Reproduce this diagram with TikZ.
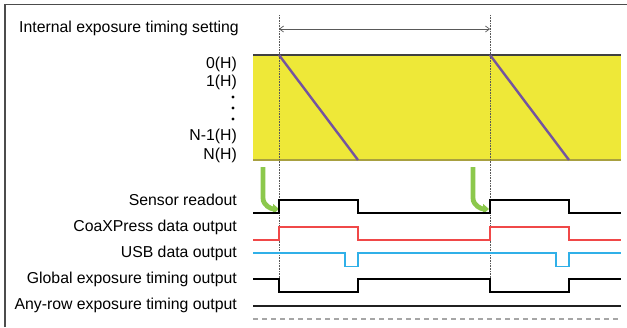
\documentclass[tikz,border=0pt]{standalone}
\usepackage{fontspec}
\setmainfont{Liberation Sans}
\usetikzlibrary{arrows.meta}
\definecolor{bandyellow}{HTML}{EEE838}
\definecolor{bandedge}{HTML}{A8A040}
\definecolor{rowpurple}{HTML}{7454A0}
\definecolor{sigred}{HTML}{F04848}
\definecolor{sigblue}{HTML}{30B0E8}
\definecolor{arrgreen}{HTML}{8CC84C}
\begin{document}
\begin{tikzpicture}[x=1pt,y=-1pt,
  lbl/.style={anchor=east,inner sep=0pt,font=\fontsize{15.8}{18}\selectfont},
  sig/.style={line width=1.4pt},
  guide/.style={densely dotted,gray!70!black,line width=0.6pt},
  greenarr/.style={arrgreen,line width=4.8pt,-{Triangle[length=6pt,width=10pt]}}]
\useasboundingbox (0,0) rectangle (627,327);
% frame (top and left visible)
\draw[gray!60!black,line width=1.2pt] (5,327) -- (5,4.5) -- (627,4.5);
% title
\node[anchor=west,inner sep=0pt,font=\fontsize{15.8}{18}\selectfont] (title) at (19,28) {Internal exposure timing setting};
% band
\fill[bandyellow] (253,55) rectangle (621,160);
\draw[gray!50!black,line width=1.1pt] (253,55) -- (621,55);
\draw[bandedge,line width=1.3pt] (253,160) -- (621,160);
% purple rows
\draw[rowpurple,line width=2.4pt] (279,55) -- (358,160);
\draw[rowpurple,line width=2.4pt] (490,55) -- (569,160);
% guide lines
\coordinate (g1t) at (279,15); \coordinate (g1b) at (279,292);
\coordinate (g2t) at (490,15); \coordinate (g2b) at (490,292);
\draw[guide] (g1t) -- (g1b);
\draw[guide] (g2t) -- (g2b);
\coordinate (a1) at (279,29); \coordinate (a2) at (490,29);
\draw[gray!70!black,line width=0.7pt,{Straight Barb[length=4pt,width=6pt]}-{Straight Barb[length=4pt,width=6pt]}] (a1) -- (a2);
% row labels
\node[lbl] (r0) at (237,64) {0(H)};
\node[lbl] (r1) at (237,82) {1(H)};
\fill (233,97) circle (1.6);
\fill (233,108) circle (1.6);
\fill (233,119) circle (1.6);
\node[lbl] (rn1) at (237,136) {N-1(H)};
\node[lbl] (rn) at (237,155) {N(H)};
% signal labels
\node[lbl] (s1) at (237,200) {Sensor readout};
\node[lbl] (s2) at (237,227) {CoaXPress data output};
\node[lbl] (s3) at (237,253) {USB data output};
\node[lbl] (s4) at (237,279) {Global exposure timing output};
\node[lbl] (s5) at (237,305) {Any-row exposure timing output};
% green arrows
\draw[greenarr] (263,167) -- (263,198) to[out=-90,in=180] (279,209);
\draw[greenarr] (473,167) -- (473,198) to[out=-90,in=180] (489,209);
% sensor readout
\draw[sig,black] (253,213) -- (279,213) -- (279,200) -- (358,200) -- (358,213) -- (490,213) -- (490,200) -- (569,200) -- (569,213) -- (621,213);
% CoaXPress
\draw[sig,sigred] (253,240) -- (279,240) -- (279,227) -- (358,227) -- (358,240) -- (490,240) -- (490,227) -- (569,227) -- (569,240) -- (621,240);
% USB
\draw[sig,sigblue] (253,253) -- (345,253) -- (345,266.5) -- (358,266.5) -- (358,253) -- (556,253) -- (556,266.5) -- (569,266.5) -- (569,253) -- (621,253);
% Global exposure
\draw[sig,black] (253,279) -- (279,279) -- (279,292) -- (358,292) -- (358,279) -- (490,279) -- (490,292) -- (569,292) -- (569,279) -- (621,279);
% Any-row
\draw[gray!25!black,line width=2pt] (253,305.5) -- (621,305.5);
% dashed bottom
\draw[gray!70,line width=1.4pt,dash pattern=on 5pt off 4pt] (253,319) -- (621,319);
\end{tikzpicture}
\end{document}
